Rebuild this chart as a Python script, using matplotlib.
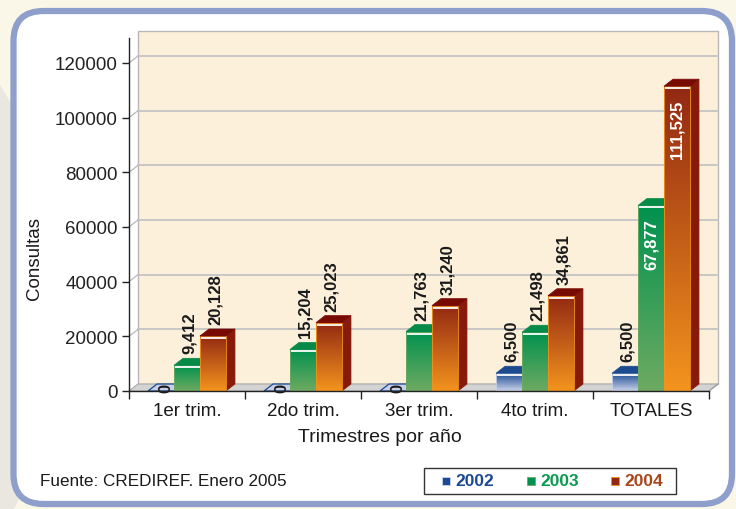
import numpy as np
import matplotlib
matplotlib.use("Agg")
import matplotlib.pyplot as plt
from matplotlib.colors import LinearSegmentedColormap
from matplotlib.patches import Polygon, Rectangle, FancyBboxPatch, Ellipse
from matplotlib.transforms import IdentityTransform

plt.rcParams['font.family'] = ['Liberation Sans', 'DejaVu Sans']

# ---- data ----
categories = ["1er trim.", "2do trim.", "3er trim.", "4to trim.", "TOTALES"]
series_names = ["2002", "2003", "2004"]
v2002 = [0, 0, 0, 6500, 6500]
v2003 = [9412, 15204, 21763, 21498, 67877]
v2004 = [20128, 25023, 31240, 34861, 111525]
yticks = [0, 20000, 40000, 60000, 80000, 100000, 120000]
xlabel = "Trimestres por año"
ylabel = "Consultas"
source = "Fuente: CREDIREF. Enero 2005"

series = [v2002, v2003, v2004]

# colours per series
styles = [
    dict(top="#1B4A92", bot="#CBD3EA", side="#173C78", cap="#1C4A8E", text="#1A4A94", zero="#C6CEE8"),
    dict(top="#00924E", bot="#6EAA62", side="#0A6E3A", cap="#078A48", text="#0A9A50", zero="#9FD0A8"),
    dict(top="#922812", bot="#F4941E", side="#861B0C", cap="#780A04", text="#A8461C", zero="#E0A070"),
]

W, H = 736, 510
fig = plt.figure(figsize=(W / 100, H / 100), dpi=100)
fig.patch.set_facecolor("#FBF7E8")

# background decoration and frame (pixel coords, y up)
fig.patches.append(Ellipse((-150, 200), 420, 640, transform=IdentityTransform(),
                           facecolor="#E9E7DF", edgecolor="none", zorder=0))
fig.patches.append(FancyBboxPatch((13.5, 5), 732 - 13.5, 498 - 5,
                                  boxstyle="round,pad=0,rounding_size=30",
                                  transform=IdentityTransform(),
                                  facecolor="white", edgecolor="#8E9FCB",
                                  linewidth=4.5, zorder=1))

# axes geometry in pixels (y from top)
ax_l, ax_r, ax_b, ax_t = 129, 709, 392, 39
ax = fig.add_axes([ax_l / W, (H - ax_b) / H, (ax_r - ax_l) / W, (ax_b - ax_t) / H])
ax.set_facecolor("none")
ax.set_zorder(2)
ncat = len(categories)
ymax = (ax_b - ax_t) / 328 * 120000
ax.set_xlim(0, ncat)
ax.set_ylim(0, ymax)

px_x = (ax_r - ax_l) / ncat          # pixels per x unit
px_y = (ax_b - ax_t) / ymax          # pixels per y unit
dx = 9 / px_x
dy = 7 / px_y
def py(p):  # pixels -> y data units
    return p / px_y

# back wall
ax.add_patch(Rectangle((dx, dy), ncat, ymax, facecolor="#FCF0DA",
                       edgecolor="#B8B8B8", lw=1.0, zorder=1, clip_on=False))
# gridlines
for v in yticks[1:]:
    ax.plot([dx, ncat + dx], [v + dy, v + dy], color="#C4C4C4", lw=1.3, zorder=1.5, clip_on=False)
    ax.plot([0, dx], [v, v + dy], color="#B8B8B8", lw=0.9, zorder=1.5, clip_on=False)
# floor
ax.add_patch(Polygon([(0, 0), (ncat, 0), (ncat + dx, dy), (dx, dy)], closed=True,
                     facecolor="#D3D3D3", edgecolor="#A8A8A8", lw=0.8, zorder=1.6, clip_on=False))
ax.plot([ncat, ncat + dx], [0, dy], color="#A0A0A0", lw=0.9, zorder=1.6, clip_on=False)

bw = 0.224
off = (1 - bw * len(series)) / 2
grad = np.linspace(0, 1, 256).reshape(-1, 1)

z = 3
for i in range(ncat):
    for j, vals in enumerate(series):
        v = vals[i]
        st = styles[j]
        x0 = i + off + j * bw
        x1 = x0 + bw
        if v > 0:
            ax.add_patch(Polygon([(x1, 0), (x1 + dx, dy), (x1 + dx, v + dy), (x1, v)], closed=True,
                                 facecolor=st["side"], edgecolor=st["side"], lw=0.5, zorder=z))
            cmap = LinearSegmentedColormap.from_list("g", [st["bot"], st["top"]])
            ax.imshow(grad, extent=[x0, x1, 0, v], origin="lower", aspect="auto",
                      cmap=cmap, interpolation="bilinear", zorder=z + 0.1)
            ax.add_patch(Rectangle((x0, 0), bw, v, facecolor="none",
                                   edgecolor=st["bot"], lw=0.6, zorder=z + 0.15))
            ax.add_patch(Polygon([(x0, v), (x1, v), (x1 + dx, v + dy), (x0 + dx, v + dy)], closed=True,
                                 facecolor=st["cap"], edgecolor=st["cap"], lw=0.5, zorder=z + 0.2))
            ax.plot([x0 + 0.01, x1], [v - py(2), v - py(2)], color="white", lw=1.3,
                    zorder=z + 0.25, solid_capstyle="butt")
        else:
            ax.add_patch(Polygon([(x0, 0), (x1, 0), (x1 + dx, dy), (x0 + dx, dy)], closed=True,
                                 facecolor=st["zero"], edgecolor=st["top"], lw=0.9, zorder=z + 0.2))
        cx = (x0 + x1) / 2 + dx / 2
        lab = f"{v:,}"
        if v == 0:
            ax.text(cx, dy / 2, lab, rotation=90, ha="center", va="center", fontsize=12,
                    fontweight="bold", color="#1A1A1A", zorder=z + 0.5)
        elif v > 50000:
            ax.text(cx - dx / 2, v - py(13), lab, rotation=90, ha="center", va="top", fontsize=12,
                    fontweight="bold", color="white", zorder=z + 0.5)
        else:
            ax.text(cx - dx / 4, v + dy + py(5), lab, rotation=90, ha="center", va="bottom",
                    fontsize=12, fontweight="bold", color="#1A1A1A", zorder=z + 0.5)
        z += 1

# axes styling
for s in ["top", "right"]:
    ax.spines[s].set_visible(False)
for s in ["left", "bottom"]:
    ax.spines[s].set_color("#222222")
    ax.spines[s].set_linewidth(1.0)
    ax.spines[s].set_zorder(50)
ax.set_yticks(yticks)
ax.set_yticklabels([str(t) for t in yticks], fontsize=13.5, color="#1A1A1A")
ax.tick_params(axis="y", direction="out", length=5, width=1, pad=3, colors="#222222")
ax.set_xticks(range(ncat + 1))
ax.set_xticklabels([""] * (ncat + 1))
ax.tick_params(axis="x", which="major", direction="out", length=6, width=1, colors="#222222")
ax.set_xticks([k + 0.5 for k in range(ncat)], minor=True)
ax.set_xticklabels(categories, minor=True, fontsize=13.5, color="#1A1A1A")
ax.tick_params(axis="x", which="minor", length=0, pad=8)

fig.text(379.5 / W, 1 - 438 / H, xlabel, ha="center", va="center", fontsize=14, color="#1A1A1A")
fig.text(35 / W, 1 - 258 / H, ylabel, ha="center", va="center", rotation=90,
         fontsize=13.5, color="#1A1A1A")
fig.text(40 / W, 1 - 482 / H, source, ha="left", va="center", fontsize=12.3, color="#1A1A1A")

# legend box
fig.patches.append(Rectangle((424, H - 495), 252, 26, transform=IdentityTransform(),
                             facecolor="white", edgecolor="#333333", lw=1.0, zorder=3))
leg_x = [442, 527, 611]
for j, name in enumerate(series_names):
    st = styles[j]
    fig.patches.append(Rectangle((leg_x[j], H - 486), 8, 8, transform=IdentityTransform(),
                                 facecolor=st["top"], edgecolor=st["bot"], lw=0.6, zorder=4))
    fig.text((leg_x[j] + 13) / W, 1 - 482 / H, name, ha="left", va="center", fontsize=12.5,
             fontweight="bold", color=st["text"], zorder=4)

fig.savefig("out.png", dpi=100, facecolor=fig.get_facecolor())
